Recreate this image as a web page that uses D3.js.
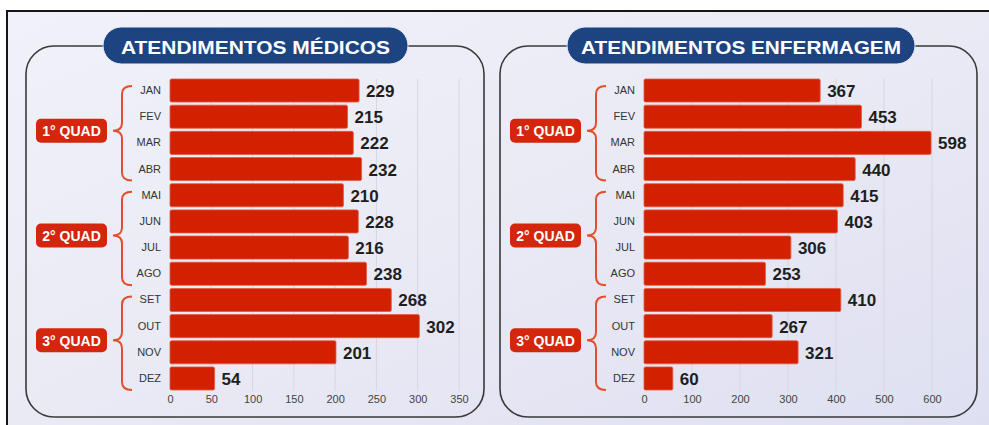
<!DOCTYPE html>
<html><head><meta charset="utf-8">
<script src="https://cdn.jsdelivr.net/npm/d3@7"></script>
<style>
html,body{margin:0;padding:0;background:#fff;}
svg{display:block;font-family:"Liberation Sans",Arial,sans-serif;}
</style></head>
<body>
<svg id="chart" width="989" height="425"></svg>
<script>
const months = ["JAN","FEV","MAR","ABR","MAI","JUN","JUL","AGO","SET","OUT","NOV","DEZ"];
const quads = ["1° QUAD","2° QUAD","3° QUAD"];
const medicos = [229,215,222,232,210,228,216,238,268,302,201,54];
const enfermagem = [367,453,598,440,415,403,306,253,410,267,321,60];
const medicosTicks = [0,50,100,150,200,250,300,350];
const enfermagemTicks = [0,100,200,300,400,500,600];
const titles = ["ATENDIMENTOS MÉDICOS","ATENDIMENTOS ENFERMAGEM"];

const svg = d3.select("#chart");
const defs = svg.append("defs");
const bg = defs.append("linearGradient").attr("id","bg").attr("x1","0").attr("y1","0").attr("x2","1").attr("y2","1");
bg.append("stop").attr("offset","0").attr("stop-color","#f1f1f9");
bg.append("stop").attr("offset","0.5").attr("stop-color","#eaeaf5");
bg.append("stop").attr("offset","1").attr("stop-color","#dedff1");

// outer frame
svg.append("rect").attr("x",7).attr("y",11).attr("width",990).attr("height",420)
  .attr("fill","url(#bg)").attr("stroke","#151515").attr("stroke-width",2);

const y = d3.scaleBand().domain(months).range([79,390]).paddingInner(0.12);

const panels = [
  {title:titles[0], values:medicos, ticks:medicosTicks, domain:[0,350], range:[170,459],
   box:[26,46,484,417], pill:[103,408], titleW:269},
  {title:titles[1], values:enfermagem, ticks:enfermagemTicks, domain:[0,600], range:[644,932],
   box:[500,46,977,417], pill:[567,915], titleW:320}
];

panels.forEach(p => {
  const g = svg.append("g");
  const x = d3.scaleLinear().domain(p.domain).range(p.range);
  const x0 = x(0);
  // panel outline
  g.append("rect").attr("x",p.box[0]).attr("y",p.box[1])
    .attr("width",p.box[2]-p.box[0]).attr("height",p.box[3]-p.box[1])
    .attr("rx",28).attr("fill","none").attr("stroke","#3a3a3a").attr("stroke-width",1.6);
  // title pill
  g.append("rect").attr("x",p.pill[0]).attr("y",27).attr("width",p.pill[1]-p.pill[0]).attr("height",37)
    .attr("rx",18.5).attr("fill","#1d4481").attr("stroke","#e8ecf6").attr("stroke-width",1);
  g.append("text").attr("x",(p.pill[0]+p.pill[1])/2).attr("y",47)
    .attr("text-anchor","middle").attr("dominant-baseline","central")
    .attr("font-size",19).attr("font-weight","bold").attr("fill","#fff")
    .attr("textLength",p.titleW).attr("lengthAdjust","spacingAndGlyphs")
    .text(p.title);
  // gridlines
  g.append("g").selectAll("line").data(p.ticks.slice(1)).join("line")
    .attr("x1",d=>x(d)).attr("x2",d=>x(d)).attr("y1",79).attr("y2",391)
    .attr("stroke","#d6d6e2").attr("stroke-width",1);
  // bars
  g.append("g").selectAll("rect").data(p.values).join("rect")
    .attr("x",x0).attr("y",(d,i)=>y(months[i]))
    .attr("width",d=>x(d)-x0).attr("height",y.bandwidth())
    .attr("rx",1.5).attr("fill","#d22000").attr("stroke","#e4583c").attr("stroke-width",0.8);
  // value labels
  g.append("g").selectAll("text").data(p.values).join("text")
    .attr("x",d=>x(d)+7).attr("y",(d,i)=>y(months[i])+y.bandwidth()/2+1)
    .attr("dominant-baseline","central").attr("font-size",17).attr("font-weight","bold")
    .attr("fill","#1e1e1e").text(d=>d);
  // x axis
  const xa = g.append("g").attr("transform","translate(0,391)")
    .call(d3.axisBottom(x).tickValues(p.ticks).tickSize(0).tickPadding(4));
  xa.select(".domain").remove();
  xa.selectAll("text").attr("font-size",11).attr("fill","#444").attr("font-family","Liberation Sans, Arial, sans-serif");
  // month axis
  const ya = g.append("g").attr("transform",`translate(${x0},0)`)
    .call(d3.axisLeft(y).tickSize(0).tickPadding(9));
  ya.select(".domain").remove();
  ya.selectAll("text").attr("font-size",11).attr("fill","#333").attr("font-family","Liberation Sans, Arial, sans-serif");
  // quadrimester braces + labels
  quads.forEach((q,qi) => {
    const top = y(months[qi*4]) + (qi===0 ? 7 : 8);
    const bot = y(months[qi*4+3]) + y.bandwidth();
    const yc = (y(months[qi*4]) + bot)/2 + 1;
    const xe = x0-38, xm = x0-48, xt = x0-57, r = 8;
    const path = d3.path();
    path.moveTo(xe, top);
    path.quadraticCurveTo(xm, top, xm, top+r);
    path.lineTo(xm, yc-r);
    path.quadraticCurveTo(xm, yc, xt, yc);
    path.quadraticCurveTo(xm, yc, xm, yc+r);
    path.lineTo(xm, bot-r);
    path.quadraticCurveTo(xm, bot, xe, bot);
    g.append("path").attr("d",path.toString()).attr("fill","none")
      .attr("stroke","#e0502c").attr("stroke-width",2);
    g.append("rect").attr("x",x0-134).attr("y",yc-12).attr("width",71).attr("height",24)
      .attr("rx",5).attr("fill","#d3260c");
    g.append("text").attr("x",x0-98.5).attr("y",yc+0.5).attr("text-anchor","middle")
      .attr("dominant-baseline","central").attr("font-size",14).attr("font-weight","bold")
      .attr("fill","#fff").text(q);
  });
});
</script>
</body></html>
